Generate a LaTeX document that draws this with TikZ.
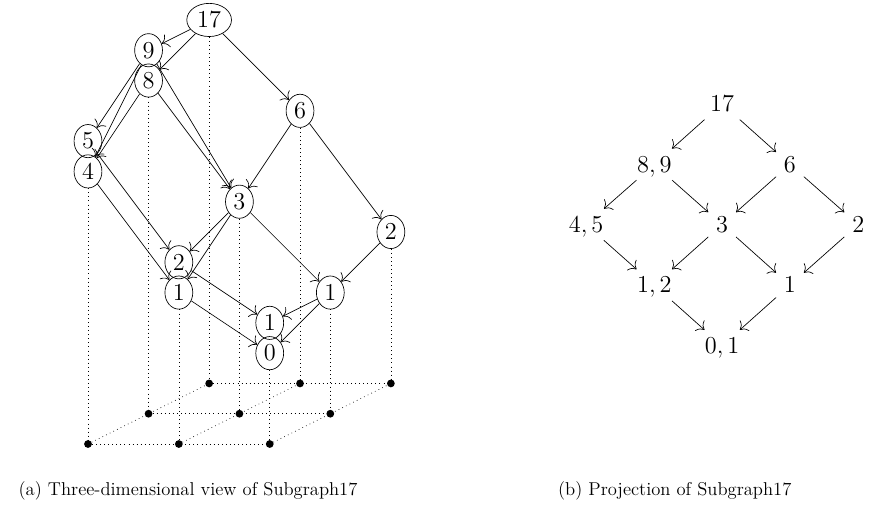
\documentclass[tikz,border=0pt]{standalone}
\usepackage{tikz}
\usepackage{amsmath}
\usetikzlibrary{shapes.geometric, arrows, arrows.meta, positioning, calc}

\tikzset{
    wnode/.style={draw, ellipse, inner sep=2.3pt, font=\fontsize{13.8}{16}\selectfont},
    pnode/.style={inner sep=4.5pt, text depth=0pt, font=\fontsize{13.8}{16}\selectfont},
    caption/.style={anchor=west, inner sep=0pt, font=\fontsize{11}{13}\selectfont},
    grid dot/.style={fill=black},
    drop/.style={dotted},
    arc/.style={-{To[scale=1.6]}}
}

\begin{document}
\begin{tikzpicture}
    \useasboundingbox (0,0) rectangle (18.22,10.67);

    \begin{scope}[shift={(1.83,1.435)}, x={(1.89cm,0cm)}, y={(1.26cm,0.63cm)}, z={(0cm,0.63cm)}]
        \foreach \i in {0,1,2} {
            \foreach \j in {0,1,2} {
                \coordinate (b\i\j) at (\i,\j,0);
            }
        }
        \foreach \i in {0,1,2} {
            \draw[drop] (b\i0) -- (b\i1) -- (b\i2);
            \draw[drop] (b0\i) -- (b1\i) -- (b2\i);
        }
        \foreach \i in {0,1,2} {
            \foreach \j in {0,1,2} {
                \fill[grid dot] (b\i\j) circle (2.3pt);
            }
        }

        \node[wnode] (n17) at (0,2,12) {$17$};
        \node[wnode] (n9) at (0,1,12) {$9$};
        \node[wnode] (n8) at (0,1,11) {$8$};
        \node[wnode] (n5) at (0,0,10) {$5$};
        \node[wnode] (n4) at (0,0,9) {$4$};
        \node[wnode] (n6) at (1,2,9) {$6$};
        \node[wnode] (n3) at (1,1,7) {$3$};
        \node[wnode] (n2r) at (2,2,5) {$2$};
        \node[wnode] (n2l) at (1,0,6) {$2$};
        \node[wnode] (n1l) at (1,0,5) {$1$};
        \node[wnode] (n1r) at (2,1,4) {$1$};
        \node[wnode] (n1b) at (2,0,4) {$1$};
        \node[wnode] (n0) at (2,0,3) {$0$};

        \draw[drop] (n17) -- (b02);
        \draw[drop] (n8) -- (b01);
        \draw[drop] (n4) -- (b00);
        \draw[drop] (n6) -- (b12);
        \draw[drop] (n3) -- (b11);
        \draw[drop] (n1l) -- (b10);
        \draw[drop] (n2r) -- (b22);
        \draw[drop] (n1r) -- (b21);
        \draw[drop] (n0) -- (b20);

        \draw[arc] (n17) -- (n9);
        \draw[arc] (n17) -- (n8);
        \draw[arc] (n17) -- (n6);
        \draw[arc] (n9) -- (n5);
        \draw[arc] (n9) -- (n4);
        \draw[arc] (n8) -- (n4);
        \draw[arc] (n9) -- (n3);
        \draw[arc] (n8) -- (n3);
        \draw[arc] (n6) -- (n3);
        \draw[arc] (n6) -- (n2r);
        \draw[arc] (n5) -- (n2l);
        \draw[arc] (n4) -- (n1l);
        \draw[arc] (n3) -- (n2l);
        \draw[arc] (n3) -- (n1l);
        \draw[arc] (n3) -- (n1r);
        \draw[arc] (n2r) -- (n1r);
        \draw[arc] (n2l) -- (n1b);
        \draw[arc] (n1l) -- (n0);
        \draw[arc] (n1r) -- (n1b);
        \draw[arc] (n1r) -- (n0);
    \end{scope}

    \node[pnode] (p17) at (15.02,8.51) {$17$};
    \node[pnode] (p89) at (13.61,7.25) {$8,9$};
    \node[pnode] (p6) at (16.43,7.25) {$6$};
    \node[pnode] (p45) at (12.19,6.0) {$4,5$};
    \node[pnode] (p3) at (15.02,6.0) {$3$};
    \node[pnode] (p2) at (17.85,6.0) {$2$};
    \node[pnode] (p12) at (13.61,4.74) {$1,2$};
    \node[pnode] (p1) at (16.43,4.74) {$1$};
    \node[pnode] (p01) at (15.02,3.48) {$0,1$};

    \draw[arc] (p17) -- (p89);
    \draw[arc] (p17) -- (p6);
    \draw[arc] (p89) -- (p45);
    \draw[arc] (p89) -- (p3);
    \draw[arc] (p6) -- (p3);
    \draw[arc] (p6) -- (p2);
    \draw[arc] (p45) -- (p12);
    \draw[arc] (p3) -- (p12);
    \draw[arc] (p3) -- (p1);
    \draw[arc] (p2) -- (p1);
    \draw[arc] (p12) -- (p01);
    \draw[arc] (p1) -- (p01);

    \node[caption] (capa) at (0.38,0.46) {(a) Three-dimensional view of Subgraph17};
    \node[caption] (capb) at (11.6,0.46) {(b) Projection of Subgraph17};
\end{tikzpicture}
\end{document}
